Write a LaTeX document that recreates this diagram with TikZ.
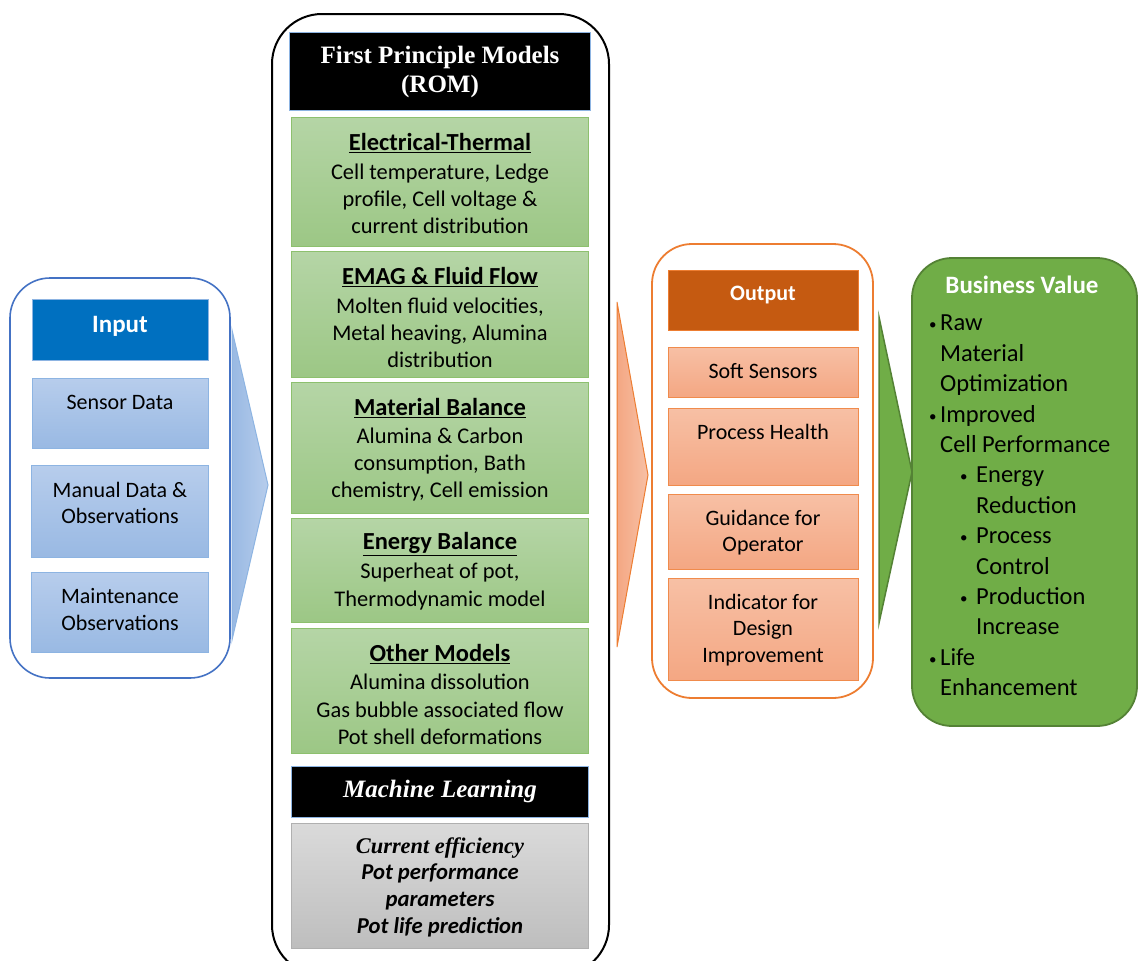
\documentclass[tikz,border=0pt]{standalone}
\usepackage{fontspec}
\setmainfont{Carlito}
\newfontfamily\tnr{Liberation Serif}
\definecolor{inblue}{HTML}{0070C0}
\definecolor{bluetop}{HTML}{B7CDEC}
\definecolor{bluebot}{HTML}{99B9E3}
\definecolor{blueline}{HTML}{8DB4E2}
\definecolor{outerblue}{HTML}{4472C4}
\definecolor{greentop}{HTML}{B5D5A6}
\definecolor{greenbot}{HTML}{9CC785}
\definecolor{greenline}{HTML}{8DC06E}
\definecolor{orgtop}{HTML}{F7C0A5}
\definecolor{orgbot}{HTML}{F4A783}
\definecolor{orgline}{HTML}{F08B4C}
\definecolor{outerorg}{HTML}{ED7D31}
\definecolor{orghead}{HTML}{C55A11}
\definecolor{bvgreen}{HTML}{70AD47}
\definecolor{bvline}{HTML}{548235}
\definecolor{greytop}{HTML}{DADADA}
\definecolor{greybot}{HTML}{BEBEBE}
\definecolor{greyline}{HTML}{B0B0B0}
\definecolor{hdrline}{HTML}{8DB4E2}
\newcommand\mkbox[6]{\node[#2, minimum width={#5-#3}, minimum height={#6-#4}] (#1) at ({(#3+#5)/2},{(#4+#6)/2}) {};}
\newcommand\bul{\raisebox{1pt}{\fontsize{15}{15}\selectfont\textbullet}}
\tikzset{
  boxbase/.style={rectangle, inner sep=0pt, outer sep=0pt, line width=1pt},
  bluebox/.style={boxbase, draw=blueline, top color=bluetop, bottom color=bluebot},
  greenbox/.style={boxbase, draw=greenline, top color=greentop, bottom color=greenbot},
  orgbox/.style={boxbase, draw=orgline, top color=orgtop, bottom color=orgbot},
  greybox/.style={boxbase, draw=greyline, top color=greytop, bottom color=greybot},
  blackbox/.style={boxbase, draw=hdrline, fill=black},
  txt/.style={inner sep=0pt, align=center, font=\fontsize{22}{26.5}\selectfont},
  mtxt/.style={inner sep=0pt, align=center, font=\fontsize{22.4}{27.3}\selectfont},
  ttl/.style={inner sep=0pt, align=center, font=\fontsize{24.5}{28}\selectfont\bfseries},
  hdr/.style={inner sep=0pt, align=center, text=white, font=\fontsize{24}{28}\selectfont\bfseries},
}
\begin{document}
\begin{tikzpicture}[x=1pt,y=-1pt]
\useasboundingbox (0,0) rectangle (1138,961);
\fill[white] (0,0) rectangle (1138,961);
% ---------- Input ----------
\mkbox{inouter}{boxbase, draw=outerblue, line width=1.6pt, rounded corners=40pt}{10}{278}{230}{678}
\mkbox{inhead}{boxbase, fill=inblue, draw=blueline}{32}{299}{208}{360}
\mkbox{sensor}{bluebox}{32}{378}{208}{448}
\mkbox{manual}{bluebox}{31}{465}{208}{557}
\mkbox{maint}{bluebox}{31}{572}{208}{652}
\node[hdr, font=\fontsize{25}{28}\selectfont\bfseries] (inheadt) at (120,326) {Input};
\node[txt] (sensort) at (120,402) {Sensor Data};
\node[txt] (manualt) at (120,503) {Manual Data \&\\Observations};
\node[txt] (maintt) at (120,609.5) {Maintenance\\Observations};
% blue arrow
\coordinate (ba1) at (232,330); \coordinate (ba2) at (268,485); \coordinate (ba3) at (232,640);
\path[draw=blueline, line width=1pt, left color=bluebot, right color=bluetop] (ba1) -- (ba2) -- (ba3) -- cycle;
% ---------- Middle ----------
\mkbox{midouter}{boxbase, draw=black, line width=2pt, rounded corners=50pt}{272}{14}{609}{975}
\mkbox{fpm}{blackbox}{289}{32}{590}{110}
\node[txt, text=white, font=\fontsize{25}{29}\selectfont\tnr\bfseries] (fpmt) at (440,71.5) {First Principle Models\\(ROM)};
\mkbox{et}{greenbox}{291}{117}{588}{246}
\node[ttl] (ett) at (440,143) {\underline{Electrical-Thermal}};
\node[mtxt] (etb) at (440,199) {Cell temperature, Ledge\\profile, Cell voltage \&\\current distribution};
\mkbox{emag}{greenbox}{291}{251}{588}{377}
\node[ttl] (emagt) at (440,277) {\underline{EMAG \& Fluid Flow}};
\node[mtxt] (emagb) at (440,333) {Molten fluid velocities,\\Metal heaving, Alumina\\distribution};
\mkbox{mb}{greenbox}{291}{382}{588}{513}
\node[ttl] (mbt) at (440,408) {\underline{Material Balance}};
\node[mtxt] (mbb) at (440,464.5) {Alumina \& Carbon\\consumption, Bath\\chemistry, Cell emission};
\mkbox{eb}{greenbox}{291}{518}{588}{622}
\node[ttl] (ebt) at (440,544) {\underline{Energy Balance}};
\node[mtxt] (ebb) at (440,586.5) {Superheat of pot,\\Thermodynamic model};
\mkbox{om}{greenbox}{291}{628}{588}{753}
\node[ttl] (omt) at (440,654) {\underline{Other Models}};
\node[mtxt] (omb) at (440,709.5) {Alumina dissolution\\Gas bubble associated flow\\Pot shell deformations};
\mkbox{ml}{blackbox}{291}{766}{588}{817}
\node[txt, text=white, font=\fontsize{25}{29}\selectfont\tnr\bfseries\itshape] (mlt) at (440,791) {Machine Learning};
\mkbox{mlb}{greybox}{291}{823}{588}{948}
\node[inner sep=0pt, align=center, font=\fontsize{22.7}{26.7}\selectfont\bfseries\itshape] (mlbt) at (440,887)
  {{\tnr\fontsize{22.4}{26.7}\selectfont\bfseries\itshape Current efficiency}\\Pot performance\\parameters\\Pot life prediction};
% orange arrow
\coordinate (oa1) at (617,302); \coordinate (oa2) at (648,475); \coordinate (oa3) at (617,647);
\path[draw=outerorg, line width=1pt, left color=orgbot, right color=orgtop] (oa1) -- (oa2) -- (oa3) -- cycle;
% ---------- Output ----------
\mkbox{outouter}{boxbase, draw=outerorg, line width=1.8pt, rounded corners=40pt}{652}{244}{873}{698}
\mkbox{outhead}{boxbase, fill=orghead, draw=outerorg}{668}{270}{858}{330}
\node[hdr, font=\fontsize{22}{26}\selectfont\bfseries] (outheadt) at (763,295) {Output};
\mkbox{soft}{orgbox}{668}{347}{858}{397}
\node[txt] (softt) at (763,371) {Soft Sensors};
\mkbox{ph}{orgbox}{668}{408}{858}{485}
\node[txt] (pht) at (763,432) {Process Health};
\mkbox{guid}{orgbox}{668}{494}{858}{569}
\node[txt] (guidt) at (763,532.5) {Guidance for\\Operator};
\mkbox{ind}{orgbox}{668}{578}{858}{680}
\node[txt] (indt) at (763,630) {Indicator for\\Design\\Improvement};
% green arrow
\coordinate (ga1) at (879,317); \coordinate (ga2) at (912,472); \coordinate (ga3) at (879,623);
\path[draw=bvline, line width=1.5pt, fill=bvgreen] (ga1) -- (ga2) -- (ga3) -- cycle;
% ---------- Business value ----------
\mkbox{bv}{boxbase, fill=bvgreen, draw=bvline, line width=1.8pt, rounded corners=40pt}{912}{258}{1137}{726}
\node[hdr, font=\fontsize{25}{28}\selectfont\bfseries] (bvt) at (1022,285) {Business Value};
\node[inner sep=0pt, align=left, anchor=west, font=\fontsize{24.5}{30.4}\selectfont] (bvl) at (929,505.5)
 {\makebox[11pt][l]{\bul}Raw\\
  \hspace*{11pt}Material\\
  \hspace*{11pt}Optimization\\
  \makebox[11pt][l]{\bul}Improved\\
  \hspace*{11pt}Cell Performance\\
  \hspace*{31pt}\makebox[16pt][l]{\bul}Energy\\
  \hspace*{47pt}Reduction\\
  \hspace*{31pt}\makebox[16pt][l]{\bul}Process\\
  \hspace*{47pt}Control\\
  \hspace*{31pt}\makebox[16pt][l]{\bul}Production\\
  \hspace*{47pt}Increase\\
  \makebox[11pt][l]{\bul}Life\\
  \hspace*{11pt}Enhancement};
\end{tikzpicture}
\end{document}
